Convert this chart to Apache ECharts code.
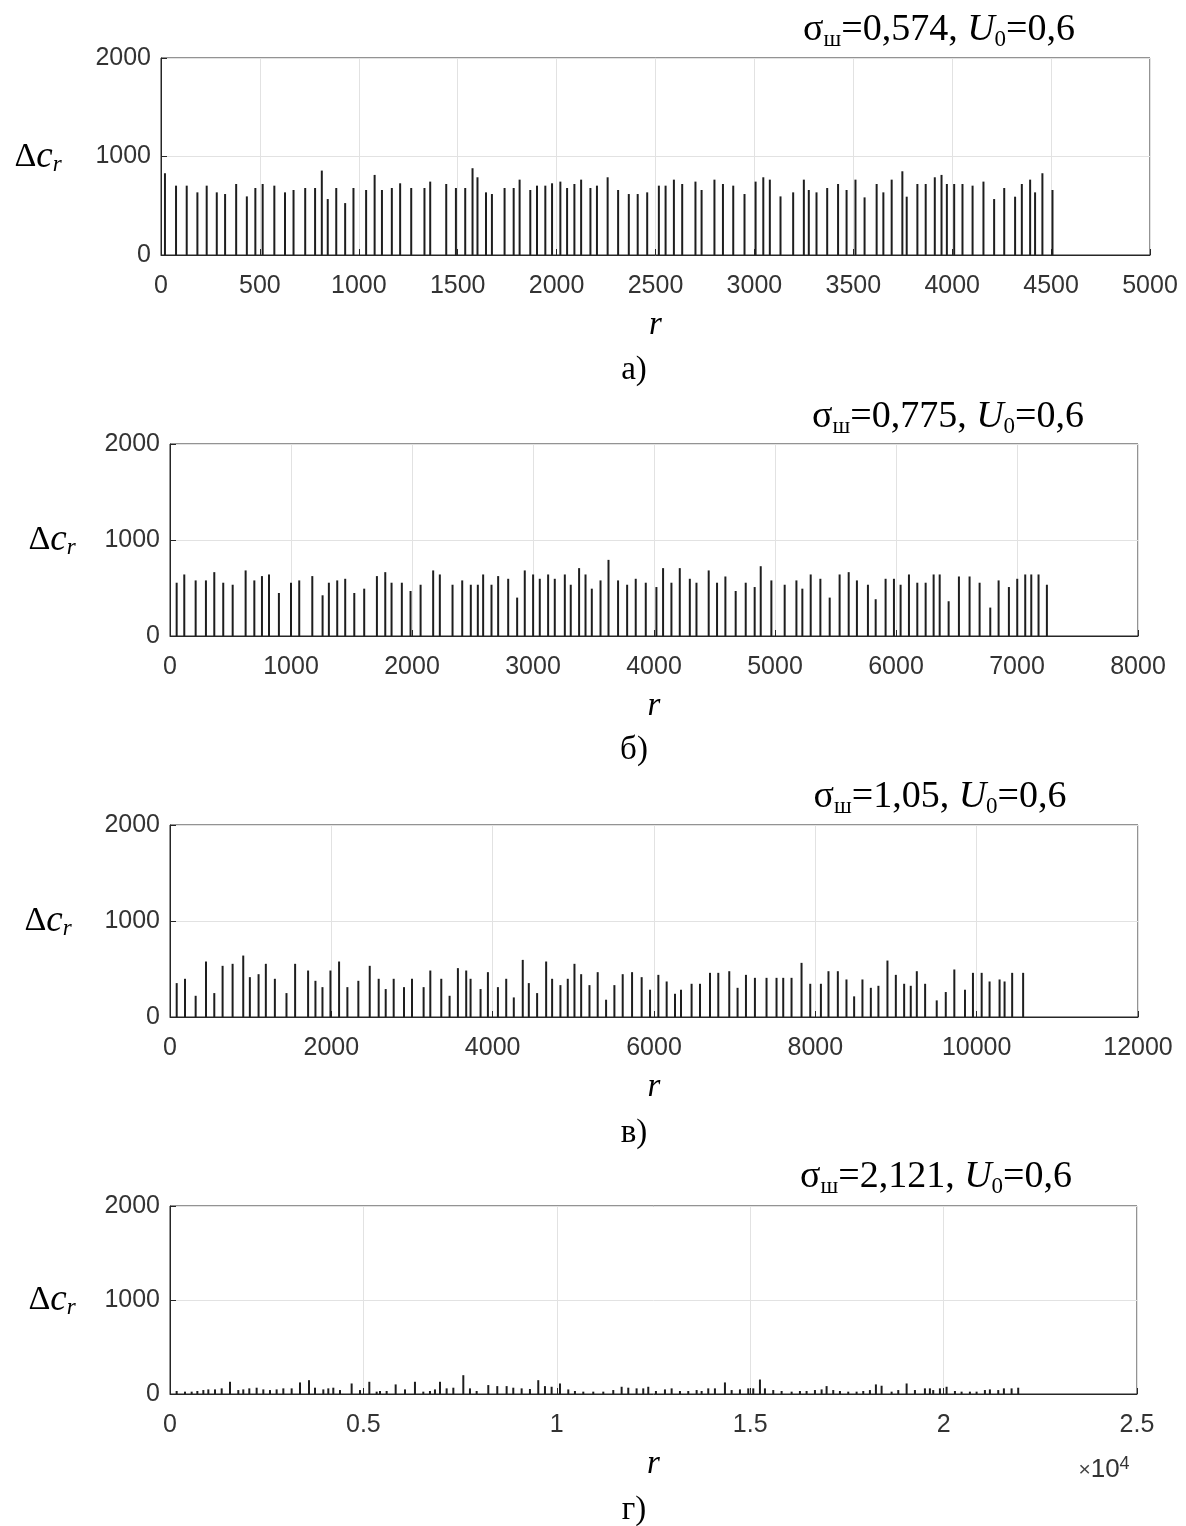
<!DOCTYPE html>
<html>
<head>
<meta charset="utf-8">
<script src="https://cdn.jsdelivr.net/npm/echarts@6/dist/echarts.min.js"></script>
<style>
  html, body { margin: 0; background: #fff; }
  #chart { width: 1186px; height: 1526px; }
</style>
</head>
<body>
<div id="chart"></div>
<script>
// а) sigma = 0,574
const rA = [20, 76, 130, 184, 231, 282, 324, 380, 434, 477, 514, 573, 627, 670, 729, 779, 813, 843, 886, 931,
  973, 1037, 1080, 1117, 1167, 1209, 1265, 1332, 1361, 1442, 1491, 1538, 1575, 1600, 1643, 1673, 1737, 1783, 1813, 1867,
  1901, 1943, 1977, 2019, 2053, 2090, 2124, 2171, 2204, 2258, 2311, 2365, 2410, 2458, 2517, 2551, 2593, 2635, 2702, 2733,
  2798, 2841, 2893, 2950, 3006, 3045, 3078, 3132, 3196, 3250, 3275, 3314, 3368, 3423, 3466, 3511, 3557, 3618, 3652, 3694,
  3748, 3770, 3824, 3866, 3912, 3946, 3973, 4010, 4052, 4103, 4158, 4212, 4263, 4318, 4352, 4394, 4419, 4456, 4507]
const dcA = [830, 704, 704, 636, 704, 636, 619, 721, 595, 680, 721, 704, 636, 660, 680, 680, 857, 568, 680, 527,
  680, 660, 813, 660, 680, 728, 680, 680, 745, 721, 680, 680, 881, 789, 636, 619, 680, 680, 765, 660,
  704, 704, 728, 745, 680, 721, 765, 680, 704, 789, 660, 619, 619, 636, 704, 704, 765, 721, 745, 660,
  765, 721, 704, 619, 745, 789, 765, 595, 636, 765, 660, 636, 680, 721, 660, 765, 585, 721, 636, 765,
  850, 592, 721, 721, 789, 813, 721, 721, 721, 704, 745, 568, 680, 592, 721, 765, 636, 830, 660]

// б) sigma = 0,775
const rB = [55, 118, 212, 297, 366, 440, 518, 625, 697, 760, 818, 900, 1000, 1068, 1176, 1261, 1313, 1382, 1448, 1523,
  1605, 1710, 1779, 1831, 1916, 1988, 2071, 2175, 2230, 2335, 2415, 2486, 2544, 2588, 2657, 2712, 2795, 2869, 2932, 3001,
  3056, 3125, 3180, 3263, 3312, 3381, 3434, 3486, 3558, 3624, 3703, 3778, 3849, 3932, 4020, 4075, 4144, 4213, 4296, 4351,
  4452, 4521, 4590, 4675, 4758, 4832, 4882, 4970, 5080, 5177, 5226, 5295, 5375, 5452, 5534, 5609, 5677, 5768, 5832, 5914,
  5983, 6038, 6107, 6176, 6245, 6311, 6361, 6435, 6520, 6608, 6691, 6779, 6848, 6933, 7002, 7068, 7118, 7178, 7247]
const dcB = [555, 641, 579, 579, 665, 555, 534, 683, 579, 624, 641, 448, 555, 579, 624, 424, 555, 579, 596, 448,
  493, 624, 665, 555, 555, 469, 534, 683, 641, 534, 579, 534, 534, 641, 534, 624, 596, 400, 683, 641,
  596, 641, 596, 641, 534, 707, 641, 493, 579, 793, 579, 534, 596, 555, 510, 707, 555, 707, 596, 555,
  683, 555, 620, 469, 555, 510, 727, 579, 534, 579, 493, 641, 596, 400, 641, 665, 579, 534, 383, 596,
  596, 534, 641, 555, 555, 641, 641, 362, 620, 620, 555, 296, 579, 510, 596, 641, 641, 641, 534]

// в) sigma = 1,05
const rC = [83, 186, 318, 446, 549, 652, 776, 908, 990, 1098, 1188, 1300, 1444, 1551, 1712, 1803, 1890, 1989, 2096, 2199,
  2335, 2476, 2587, 2674, 2773, 2901, 3000, 3144, 3227, 3363, 3466, 3569, 3672, 3726, 3850, 3941, 4065, 4168, 4262, 4373,
  4448, 4551, 4663, 4737, 4840, 4931, 5014, 5097, 5200, 5302, 5406, 5509, 5612, 5728, 5847, 5951, 6054, 6157, 6260, 6335,
  6466, 6570, 6694, 6797, 6933, 7036, 7140, 7251, 7395, 7519, 7602, 7705, 7829, 7937, 8069, 8163, 8279, 8386, 8481, 8584,
  8688, 8782, 8894, 8998, 9101, 9183, 9258, 9361, 9505, 9617, 9723, 9855, 9954, 10062, 10160, 10284, 10346, 10440, 10576]
const dcC = [353, 398, 221, 578, 249, 533, 554, 640, 415, 446, 554, 398, 249, 554, 484, 377, 311, 484, 578, 311,
  377, 533, 398, 291, 398, 311, 398, 311, 484, 398, 221, 509, 484, 398, 291, 467, 311, 398, 204, 595,
  353, 249, 578, 398, 332, 398, 554, 446, 332, 467, 180, 332, 446, 467, 415, 284, 439, 370, 242, 284,
  346, 346, 460, 460, 477, 304, 439, 408, 408, 408, 408, 408, 564, 346, 346, 477, 477, 391, 215, 391,
  304, 325, 588, 439, 346, 325, 477, 346, 173, 260, 495, 284, 460, 460, 370, 391, 370, 460, 460]

// г) sigma = 2,121
const rD = [172, 388, 560, 707, 862, 991, 1163, 1336, 1551, 1766, 1895, 2050, 2240, 2413, 2585, 2757, 2930, 3145, 3361, 3593,
  3748, 3964, 4093, 4222, 4395, 4696, 4912, 5153, 5343, 5429, 5601, 5834, 6075, 6333, 6549, 6721, 6850, 6980, 7152, 7325,
  7583, 7755, 7928, 8229, 8461, 8703, 8875, 9091, 9306, 9521, 9694, 9866, 10082, 10297, 10469, 10685, 10943, 11202, 11460, 11676,
  11848, 12063, 12235, 12365, 12563, 12796, 12969, 13184, 13399, 13615, 13744, 13916, 14088, 14347, 14520, 14735, 14950, 15079, 15252, 15381,
  15596, 15812, 16071, 16286, 16458, 16674, 16846, 16975, 17147, 17320, 17535, 17751, 17923, 18095, 18250, 18397, 18656, 18828, 19044, 19259,
  19517, 19646, 19732, 19905, 20077, 20293, 20465, 20680, 20853, 21068, 21197, 21413, 21559, 21758, 21929]
const dcD = [32, 25, 25, 32, 42, 49, 49, 60, 130, 42, 49, 60, 67, 49, 42, 49, 60, 60, 123, 147,
  67, 49, 60, 67, 42, 112, 42, 130, 25, 32, 32, 102, 49, 130, 25, 32, 49, 130, 60, 67,
  200, 60, 32, 95, 84, 84, 67, 60, 53, 147, 84, 77, 112, 49, 32, 25, 25, 25, 42, 77,
  67, 60, 60, 77, 32, 49, 60, 32, 32, 42, 32, 60, 60, 123, 42, 49, 60, 60, 154, 60,
  42, 32, 25, 32, 32, 42, 49, 84, 42, 32, 25, 25, 32, 42, 102, 88, 25, 42, 112, 42,
  60, 60, 42, 60, 77, 32, 25, 25, 25, 42, 49, 42, 60, 60, 67]

const sigmaLabels = ['0,574', '0,775', '1,05', '2,121']
const u0Labels = ['0,6', '0,6', '0,6', '0,6']
const panelLabels = ['а)', 'б)', 'в)', 'г)']
const xMax = [5000, 8000, 12000, 25000]
const xStep = [500, 1000, 2000, 5000]
const yTicks = [0, 1000, 2000]
const xScale = [1, 1, 1, 10000]   // last panel is labelled in units of 10^4

const rs = [rA, rB, rC, rD]
const dcs = [dcA, dcB, dcC, dcD]

// plot boxes
const boxes = [
  { left: 161, top: 58, width: 989, height: 197 },
  { left: 170, top: 444, width: 968, height: 192 },
  { left: 170, top: 825, width: 968, height: 192 },
  { left: 170, top: 1206, width: 967, height: 188 }
]
const titlePos = [[939, 30], [948, 417], [940, 797], [936, 1177]]
const dcPos = [[38, 157], [52, 540], [48, 921], [52, 1300]]
const labelY = [370, 750, 1133, 1510]

const axisColor = '#262626'
const serif = '"Liberation Serif", "Times New Roman", serif'
const sans = '"Liberation Sans", Arial, sans-serif'

const grid = boxes.map(b => ({
  ...b,
  show: true,
  borderColor: axisColor,
  borderWidth: 1,
  containLabel: false
}))

const xAxis = boxes.map((b, i) => ({
  type: 'value',
  gridIndex: i,
  min: 0,
  max: xMax[i],
  interval: xStep[i],
  axisLine: { show: true, onZero: false, lineStyle: { color: axisColor } },
  axisTick: { show: true, inside: true, length: 6, lineStyle: { color: axisColor } },
  axisLabel: {
    color: '#333',
    fontFamily: sans,
    fontSize: 25,
    margin: 19,
    formatter: v => String(v / xScale[i])
  },
  splitLine: { show: true, lineStyle: { color: '#e2e2e2', width: 1 } },
  name: 'r',
  nameLocation: 'middle',
  nameGap: 54,
  nameTextStyle: { fontFamily: serif, fontStyle: 'italic', fontSize: 33, color: '#000' }
}))

const yAxis = boxes.map((b, i) => ({
  type: 'value',
  gridIndex: i,
  min: yTicks[0],
  max: yTicks[yTicks.length - 1],
  interval: yTicks[1] - yTicks[0],
  axisLine: { show: true, lineStyle: { color: axisColor } },
  axisTick: { show: true, inside: true, length: 6, lineStyle: { color: axisColor } },
  axisLabel: { color: '#333', fontFamily: sans, fontSize: 25, margin: 10, formatter: v => String(v) },
  splitLine: { show: true, lineStyle: { color: '#e2e2e2', width: 1 } }
}))

const series = rs.map((r, i) => ({
  type: 'bar',
  xAxisIndex: i,
  yAxisIndex: i,
  barWidth: 2,
  silent: true,
  itemStyle: { color: '#1e1e1e' },
  data: r.map((x, k) => [x, dcs[i][k]])
}))

const titleRich = {
  n: { fontFamily: serif, fontSize: 38, lineHeight: 42, fill: '#000' },
  i: { fontFamily: serif, fontStyle: 'italic', fontSize: 38, lineHeight: 42, fill: '#000' },
  s: { fontFamily: serif, fontSize: 23, lineHeight: 23, verticalAlign: 'bottom', fill: '#000' }
}
const dcRich = {
  d: { fontFamily: serif, fontSize: 34, lineHeight: 38, fill: '#000' },
  c: { fontFamily: serif, fontStyle: 'italic', fontSize: 37, lineHeight: 38, fill: '#000' },
  s: { fontFamily: serif, fontStyle: 'italic', fontSize: 23, lineHeight: 23, verticalAlign: 'bottom', fill: '#000' }
}

const graphic = []
boxes.forEach((b, i) => {
  graphic.push({
    type: 'text',
    x: titlePos[i][0],
    y: titlePos[i][1],
    style: {
      text: '{n|σ}{s|ш}{n|=' + sigmaLabels[i] + ', }{i|U}{s|0}{n|=' + u0Labels[i] + '}',
      align: 'center',
      verticalAlign: 'middle',
      rich: titleRich
    }
  })
  graphic.push({
    type: 'text',
    x: dcPos[i][0],
    y: dcPos[i][1],
    style: {
      text: '{d|Δ}{c|c}{s|r}',
      align: 'center',
      verticalAlign: 'middle',
      rich: dcRich
    }
  })
  graphic.push({
    type: 'text',
    x: 634,
    y: labelY[i],
    style: {
      text: panelLabels[i],
      align: 'center',
      verticalAlign: 'middle',
      font: '33px ' + serif,
      fill: '#000'
    }
  })
})
graphic.push({
  type: 'text',
  x: 1104,
  y: 1470,
  style: {
    text: '{a|×}{b|10}{c|4}',
    align: 'center',
    verticalAlign: 'middle',
    rich: {
      a: { fontFamily: sans, fontSize: 21, lineHeight: 30, fill: '#444' },
      b: { fontFamily: sans, fontSize: 26, lineHeight: 30, fill: '#333' },
      c: { fontFamily: sans, fontSize: 18, lineHeight: 18, verticalAlign: 'top', fill: '#333' }
    }
  }
})

const chart = echarts.init(document.getElementById('chart'))
chart.setOption({
  animation: false,
  backgroundColor: '#fff',
  grid,
  xAxis,
  yAxis,
  series,
  graphic
})
</script>
</body>
</html>
